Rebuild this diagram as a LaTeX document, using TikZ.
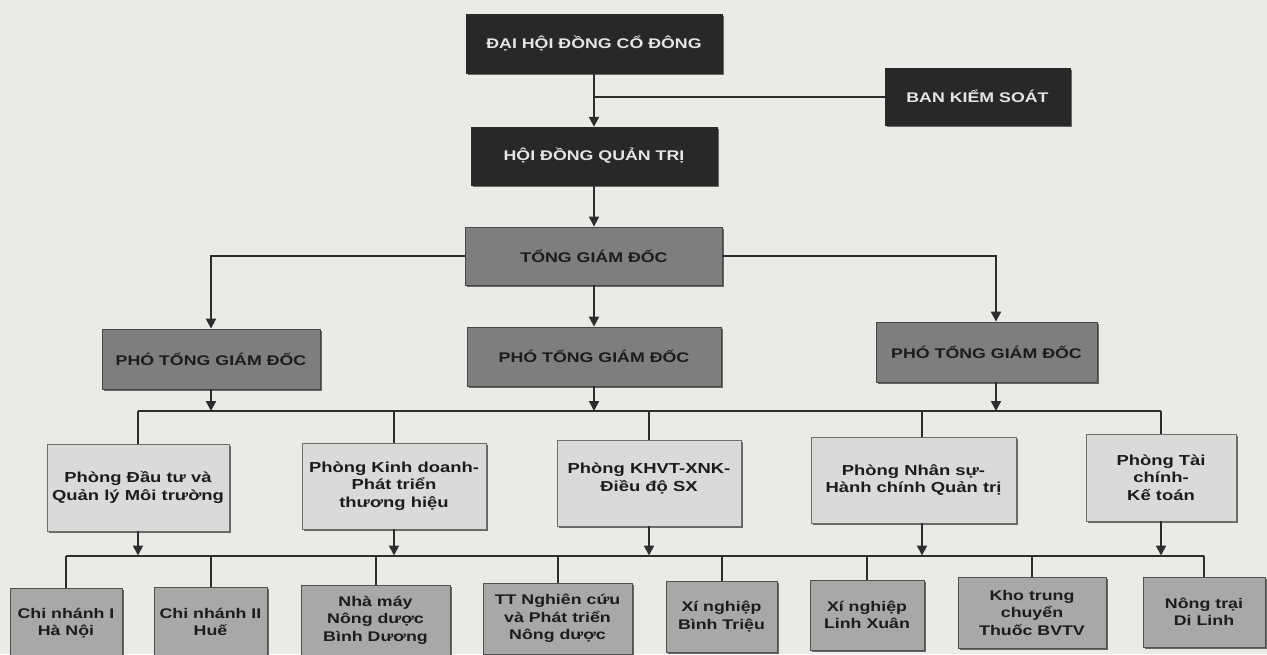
\documentclass[tikz,border=0pt]{standalone}
\usepackage{fontspec}
\setmainfont{Liberation Sans}[FakeStretch=1.27]
\usetikzlibrary{arrows.meta,shadows}
\definecolor{bg}{RGB}{236,234,231}
\definecolor{darkc}{RGB}{40,40,40}
\definecolor{midc}{RGB}{126,126,126}
\definecolor{midedge}{RGB}{70,70,70}
\definecolor{deptc}{RGB}{218,218,216}
\definecolor{deptedge}{RGB}{110,110,110}
\definecolor{lowc}{RGB}{168,168,166}
\definecolor{lowedge}{RGB}{80,80,80}
\definecolor{textc}{RGB}{28,28,28}
\definecolor{linec}{RGB}{45,45,45}
\tikzset{
  box/.style={rectangle, inner sep=2pt, align=center,
    font=\fontsize{14}{17.5}\selectfont\bfseries,
    drop shadow={shadow xshift=1.5pt, shadow yshift=-1.5pt, fill=black!65, opacity=0.9}},
  darkbox/.style={box, fill=darkc, draw=darkc, text=white!90!black},
  midbox/.style={box, fill=midc, draw=midedge, line width=0.8pt, text=textc},
  deptbox/.style={box, fill=deptc, draw=deptedge, line width=0.8pt, text=textc,
    font=\fontsize{14.5}{17.5}\selectfont\bfseries},
  lowbox/.style={box, fill=lowc, draw=lowedge, line width=0.8pt, text=textc},
  conn/.style={draw=linec, line width=2pt},
  arr/.style={conn, -{Triangle[width=10pt,length=10pt]}},
}
\begin{document}
\begin{tikzpicture}[x=1pt,y=-1pt]
\useasboundingbox (0,0) rectangle (1267,654);
\fill[bg] (0,0) rectangle (1267,654);

% top levels
\node[darkbox, minimum width=256pt, minimum height=59pt] (dh) at (594,43.5) {ĐẠI HỘI ĐỒNG CỔ ĐÔNG};
\node[darkbox, minimum width=185pt, minimum height=57pt] (bks) at (977.5,96.5) {BAN KIỂM SOÁT};
\node[darkbox, minimum width=246pt, minimum height=58pt] (hd) at (594,156) {HỘI ĐỒNG QUẢN TRỊ};
\node[midbox, minimum width=257pt, minimum height=58pt] (tgd) at (594,256) {TỔNG GIÁM ĐỐC};
\node[midbox, minimum width=218pt, minimum height=60pt] (p1) at (211,359) {PHÓ TỔNG GIÁM ĐỐC};
\node[midbox, minimum width=254pt, minimum height=59pt] (p2) at (594,356.5) {PHÓ TỔNG GIÁM ĐỐC};
\node[midbox, minimum width=221pt, minimum height=60pt] (p3) at (986.5,352) {PHÓ TỔNG GIÁM ĐỐC};

% departments
\node[deptbox, minimum width=182pt, minimum height=87pt] (d1) at (138,487.5) {Phòng Đầu tư và\\Quản lý Môi trường};
\node[deptbox, minimum width=184pt, minimum height=86pt] (d2) at (394,486) {Phòng Kinh doanh-\\Phát triển\\thương hiệu};
\node[deptbox, minimum width=184pt, minimum height=86pt] (d3) at (649,483) {Phòng KHVT-XNK-\\Điều độ SX\\[-6pt]\mbox{}};
\node[deptbox, minimum width=205pt, minimum height=86pt] (d4) at (913.5,480) {Phòng Nhân sự-\\Hành chính Quản trị};
\node[deptbox, minimum width=150pt, minimum height=87pt] (d5) at (1161,477.5) {Phòng Tài\\chính-\\Kế toán};

% units
\node[lowbox, minimum width=112pt, minimum height=70pt] (b1) at (66,623) {Chi nhánh I\\Hà Nội};
\node[lowbox, minimum width=113pt, minimum height=70pt] (b2) at (210.5,622) {Chi nhánh II\\Huế};
\node[lowbox, minimum width=149pt, minimum height=70pt] (b3) at (375.5,620) {Nhà máy\\Nông dược\\Bình Dương};
\node[lowbox, minimum width=149pt, minimum height=71pt] (b4) at (557.5,618.5) {TT Nghiên cứu\\và Phát triển\\Nông dược};
\node[lowbox, minimum width=111pt, minimum height=71pt] (b5) at (721.5,616.5) {Xí nghiệp\\Bình Triệu};
\node[lowbox, minimum width=114pt, minimum height=70pt] (b6) at (867,615) {Xí nghiệp\\Linh Xuân};
\node[lowbox, minimum width=148pt, minimum height=71pt] (b7) at (1032,612.5) {Kho trung\\chuyển\\Thuốc BVTV};
\node[lowbox, minimum width=122pt, minimum height=70pt] (b8) at (1204,612) {Nông trại\\Di Linh};

\coordinate (ub) at (0,411);
\coordinate (lb) at (0,555.5);

% connectors top
\draw[arr] (dh) -- (hd);
\draw[conn] (bks.west) -- (bks.west -| dh.south);
\draw[arr] (hd) -- (tgd);
\draw[arr] (tgd.west) -| (p1.north);
\draw[arr] (tgd) -- (p2);
\draw[arr] (tgd.east) -| ([xshift=9.5pt]p3.north);

% upper bus
\draw[conn] (d1.north |- ub) -- (d5.north |- ub);
\draw[arr] (p1.south) -- (p1.south |- ub);
\draw[arr] (p2.south) -- (p2.south |- ub);
\draw[arr] ([xshift=9.5pt]p3.south) -- ([xshift=9.5pt]p3.south |- ub);
\draw[conn] (d1.north |- ub) -- (d1.north);
\draw[conn] (d2.north |- ub) -- (d2.north);
\draw[conn] (d3.north |- ub) -- (d3.north);
\draw[conn] ([xshift=8.5pt]d4.north |- ub) -- ([xshift=8.5pt]d4.north);
\draw[conn] (d5.north |- ub) -- (d5.north);

% lower bus
\draw[conn] (b1.north |- lb) -- (b8.north |- lb);
\draw[arr] (d1.south) -- (d1.south |- lb);
\draw[arr] (d2.south) -- (d2.south |- lb);
\draw[arr] (d3.south) -- (d3.south |- lb);
\draw[arr] ([xshift=8.5pt]d4.south) -- ([xshift=8.5pt]d4.south |- lb);
\draw[arr] (d5.south) -- (d5.south |- lb);
\foreach \b in {b1,b2,b3,b4,b5,b6,b7,b8}{
  \draw[conn] (\b.north |- lb) -- (\b.north);
}
\end{tikzpicture}
\end{document}
